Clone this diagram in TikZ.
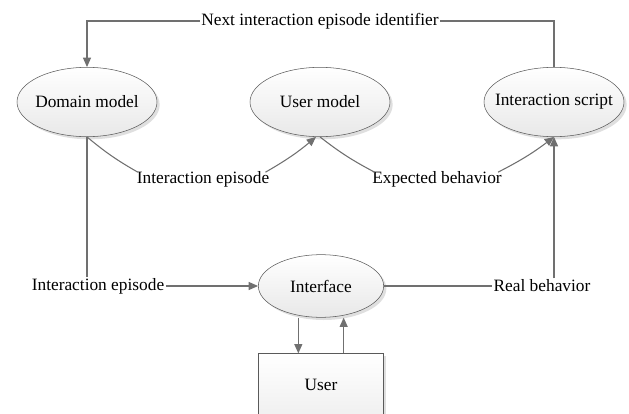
\documentclass[tikz,border=0pt]{standalone}
\usepackage{fontspec}
\setmainfont{Liberation Serif}
\usetikzlibrary{positioning, arrows.meta, shapes, shadows}
\definecolor{linegray}{RGB}{112,112,112}
\definecolor{edgegray}{RGB}{90,90,90}

\begin{document}
\begin{tikzpicture}[
    % GLOBAL CFG
    x=0.75pt, y=-0.75pt,
    font=\rmfamily\fontsize{13}{15}\selectfont,
    >={Triangle[length=7pt,width=6pt]},
    % Styles
    model/.style={% For the ellipses
        ellipse,
        draw=edgegray,
        top color=white,
        bottom color=gray!18,
        inner xsep=-9pt,
        inner ysep=0pt,
        minimum width=105pt,
        minimum height=52pt,
        drop shadow={shadow xshift=2pt, shadow yshift=-2pt, fill=gray!35, opacity=.7},
        },
    userbox/.style={% For the user box
        rectangle,
        draw=edgegray,
        top color=white,
        bottom color=gray!12,
        minimum width=94pt,
        minimum height=47pt,
        drop shadow={shadow xshift=2pt, shadow yshift=-2pt, fill=gray!35, opacity=.7},
        },
    mylabel/.style={% Texts on the lines
        inner sep=1pt,
        },
    ArrowC1/.style={% plain connectors
        draw=linegray,
        line width=.8pt,
        },
    ArrowC2/.style={% connectors with a tip
        ArrowC1,
        ->,
        },
    ]
    \useasboundingbox (0,0) rectangle (629,414);

    % Draw the nodes
    \node [model] (domain) at (87,102) {Domain model};
    \node [model] (user) at (320,102) {User model};
    \node [model] (script) at (554,102) {Interaction script};
    \node [model, minimum width=94pt, minimum height=47pt] (iface) at (321,286) {Interface};
    \node [userbox] (person) at (321,385) {User};

    % Draw the labels
    \node [mylabel] (next) at (320,21) {Next interaction episode identifier};
    \node [mylabel] (ep1) at (203,179) {Interaction episode};
    \node [mylabel] (expect) at (437,179) {Expected behavior};
    \node [mylabel] (ep2) at (98,286) {Interaction episode};
    \node [mylabel] (real) at (542,286) {Real behavior};

    % Top loop
    \draw [ArrowC2] (next.west) -| (domain.north);
    \draw [ArrowC1] (next.east) -| (script.north);

    % Curved connectors
    \draw [ArrowC1] (domain.south) to[bend right=5] ([xshift=2pt,yshift=-2pt]ep1.north west);
    \draw [ArrowC2] ([xshift=-4pt,yshift=-2pt]ep1.north east) to[bend right=5] ([xshift=-3pt]user.south);
    \draw [ArrowC1] (user.south) to[bend right=5] ([xshift=3pt,yshift=-2pt]expect.north west);
    \draw [ArrowC2] ([xshift=-4pt,yshift=-2pt]expect.north east) to[bend right=5] (script.south);

    % Lower part
    \draw [ArrowC1] (domain.south) -- (ep2.north -| domain.south);
    \draw [ArrowC2] (ep2.east) -- (iface.west);
    \draw [ArrowC1] (iface.east) -- (real.west);
    \draw [ArrowC2] (real.north -| script.south) -- (script.south);

    % Interface and user
    \draw [ArrowC2] ([xshift=-17pt]iface.south) -- ([xshift=-17pt]person.north);
    \draw [ArrowC2] ([xshift=17pt]person.north) -- ([xshift=17pt]iface.south);
\end{tikzpicture}
\end{document}
